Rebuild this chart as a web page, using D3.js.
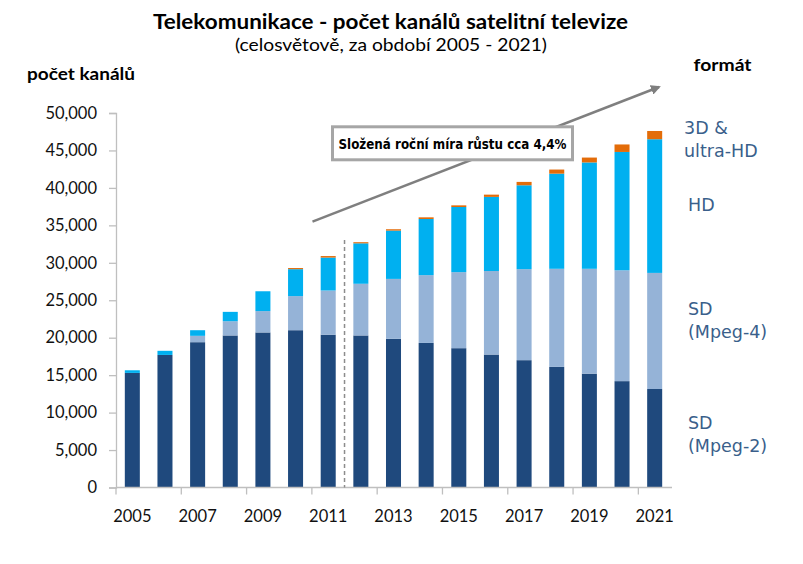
<!DOCTYPE html>
<html>
<head>
<meta charset="utf-8">
<script src="https://cdn.jsdelivr.net/npm/d3@7"></script>
<style>
  html, body { margin: 0; padding: 0; background: #fff; }
  svg { display: block; }
</style>
</head>
<body>
<svg id="chart" width="803" height="564"></svg>
<script>
// ---- data ----
const years = ["2005","2006","2007","2008","2009","2010","2011","2012","2013","2014","2015","2016","2017","2018","2019","2020","2021"];
const sdMpeg2 = [15300,17700,19400,20300,20700,21000,20400,20300,19850,19300,18600,17750,17000,16100,15200,14200,13150];
const sdMpeg4 = [0,0,850,1900,2850,4550,5900,6900,8000,9050,10150,11150,12150,13100,14000,14800,15500];
const hd      = [350,550,750,1250,2650,3600,4400,5400,6450,7500,8700,9900,11200,12700,14200,15800,17850];
const uhd3d   = [0,0,0,0,0,150,200,150,180,220,220,300,450,550,650,1000,1100];
const seriesKeys = ["sd2","sd4","hd","uhd"];
const seriesColors = {sd2:"#1F497D", sd4:"#95B3D7", hd:"#00B0F0", uhd:"#E36C09"};
const yTicks = [0,5000,10000,15000,20000,25000,30000,35000,40000,45000,50000];
const xLabelYears = ["2005","2007","2009","2011","2013","2015","2017","2019","2021"];
const titleText = "Telekomunikace - počet kanálů satelitní televize";
const subtitleText = "(celosvětově, za období 2005 - 2021)";
const yAxisTitle = "počet kanálů";
const legendTitle = "formát";
const annotationText = "Složená roční míra růstu cca 4,4%";
const legendLabels = [
  {key:"uhd", lines:["3D &","ultra-HD"]},
  {key:"hd",  lines:["HD"]},
  {key:"sd4", lines:["SD","(Mpeg-4)"]},
  {key:"sd2", lines:["SD","(Mpeg-2)"]}
];

// ---- layout ----
const svg = d3.select("#chart");
const pLeft = 116, pRight = 671, pTop = 113, pBottom = 487.5;
const pIn = 0.54;
const x = d3.scaleBand().domain(years).range([pLeft, pRight]).paddingInner(pIn).paddingOuter(pIn/2);
const y = d3.scaleLinear().domain([0, 50000]).range([pBottom, pTop]);
const step = x.step();

const table = years.map((yr, i) => ({year: yr, sd2: sdMpeg2[i], sd4: sdMpeg4[i], hd: hd[i], uhd: uhd3d[i]}));
const stacked = d3.stack().keys(seriesKeys)(table);

// ---- titles ----
svg.append("text").attr("x", 390.5).attr("y", 29).attr("text-anchor","middle")
  .attr("font-family","Lato, 'Open Sans', sans-serif").attr("font-weight","bold").attr("font-size",21)
  .attr("textLength",475).attr("lengthAdjust","spacingAndGlyphs").attr("fill","#000")
  .text(titleText);
svg.append("text").attr("x", 391).attr("y", 51).attr("text-anchor","middle")
  .attr("font-family","Lato, 'Open Sans', sans-serif").attr("font-size",18)
  .attr("textLength",312).attr("lengthAdjust","spacingAndGlyphs").attr("fill","#000")
  .text(subtitleText);
svg.append("text").attr("x", 27).attr("y", 80)
  .attr("font-family","Lato, 'Open Sans', sans-serif").attr("font-weight","bold").attr("font-size",17)
  .attr("textLength",108).attr("lengthAdjust","spacingAndGlyphs").attr("fill","#000")
  .text(yAxisTitle);
svg.append("text").attr("x", 693.5).attr("y", 70.5)
  .attr("font-family","Lato, 'Open Sans', sans-serif").attr("font-weight","bold").attr("font-size",17)
  .attr("textLength",58).attr("lengthAdjust","spacingAndGlyphs").attr("fill","#000")
  .text(legendTitle);

// ---- y axis ----
const yAxis = d3.axisLeft(y).tickValues(yTicks).tickSize(7).tickPadding(12)
  .tickFormat(d3.format(","));
const gy = svg.append("g").attr("transform", `translate(${pLeft},0)`).call(yAxis);
gy.select(".domain").attr("stroke","#bfbfbf").attr("stroke-width",1.3);
gy.selectAll(".tick line").attr("stroke","#bfbfbf").attr("stroke-width",1.3);
gy.selectAll(".tick text").attr("font-family","Lato, 'Open Sans', sans-serif").attr("font-size",16.5).attr("fill","#111");

// ---- bars ----
const gBars = svg.append("g");
stacked.forEach(layer => {
  gBars.append("g").attr("fill", seriesColors[layer.key])
    .selectAll("rect").data(layer).join("rect")
    .attr("x", d => x(d.data.year))
    .attr("width", x.bandwidth())
    .attr("y", d => y(d[1]))
    .attr("height", d => Math.max(0, y(d[0]) - y(d[1])));
});

// ---- x axis ----
const gx = svg.append("g");
gx.append("line").attr("x1", pLeft).attr("x2", pRight + 1).attr("y1", pBottom).attr("y2", pBottom)
  .attr("stroke","#bfbfbf").attr("stroke-width",1.3);
const boundaryYears = years.filter((d, i) => i % 2 === 0);
gx.selectAll("line.tk").data(boundaryYears).join("line").attr("class","tk")
  .attr("x1", d => x(d) - step*pIn/2).attr("x2", d => x(d) - step*pIn/2)
  .attr("y1", pBottom).attr("y2", pBottom + 7)
  .attr("stroke","#bfbfbf").attr("stroke-width",1.3);
gx.selectAll("text").data(xLabelYears).join("text")
  .attr("x", d => x(d) + x.bandwidth()/2).attr("y", 521.5).attr("text-anchor","middle")
  .attr("font-family","Lato, 'Open Sans', sans-serif").attr("font-size",16.5).attr("fill","#111")
  .text(d => d);

// ---- dashed divider between 2011 and 2012 ----
const divX = x("2012") - step*pIn/2;
svg.append("line").attr("x1", divX).attr("x2", divX).attr("y1", 240).attr("y2", pBottom)
  .attr("stroke","#8c8c8c").attr("stroke-width",1.5).attr("stroke-dasharray","4,3");

// ---- growth arrow ----
const defs = svg.append("defs");
defs.append("marker").attr("id","arr").attr("viewBox","0 0 10 10").attr("refX",8).attr("refY",5)
  .attr("markerWidth",4).attr("markerHeight",4).attr("orient","auto")
  .append("path").attr("d","M0,0 L10,5 L0,10 z").attr("fill","#7f7f7f");
svg.append("line").attr("x1",312.5).attr("y1",221.7).attr("x2",659).attr("y2",87)
  .attr("stroke","#7f7f7f").attr("stroke-width",2.5).attr("marker-end","url(#arr)");

// ---- annotation box ----
svg.append("rect").attr("x",332.5).attr("y",126.8).attr("width",240).attr("height",33)
  .attr("fill","#fff").attr("stroke","#a6a6a6").attr("stroke-width",3);
svg.append("text").attr("x",452.5).attr("y",148.5).attr("text-anchor","middle")
  .attr("font-family","'DejaVu Sans', Verdana, sans-serif").attr("font-weight","bold").attr("font-size",13.5)
  .attr("textLength",228).attr("lengthAdjust","spacingAndGlyphs").attr("fill","#000")
  .text(annotationText);

// ---- legend labels ----
const legendPos = {uhd:{x:684, y:134}, hd:{x:688, y:211}, sd4:{x:688, y:315}, sd2:{x:688, y:429}};
legendLabels.forEach(l => {
  const t = svg.append("text").attr("x", legendPos[l.key].x).attr("y", legendPos[l.key].y)
    .attr("font-family","'DejaVu Sans', Verdana, sans-serif").attr("font-size",17.5).attr("fill","#3A5F8B");
  l.lines.forEach((ln, i) => {
    t.append("tspan").attr("x", legendPos[l.key].x).attr("dy", i === 0 ? 0 : 22.5).text(ln);
  });
});
</script>
</body>
</html>
